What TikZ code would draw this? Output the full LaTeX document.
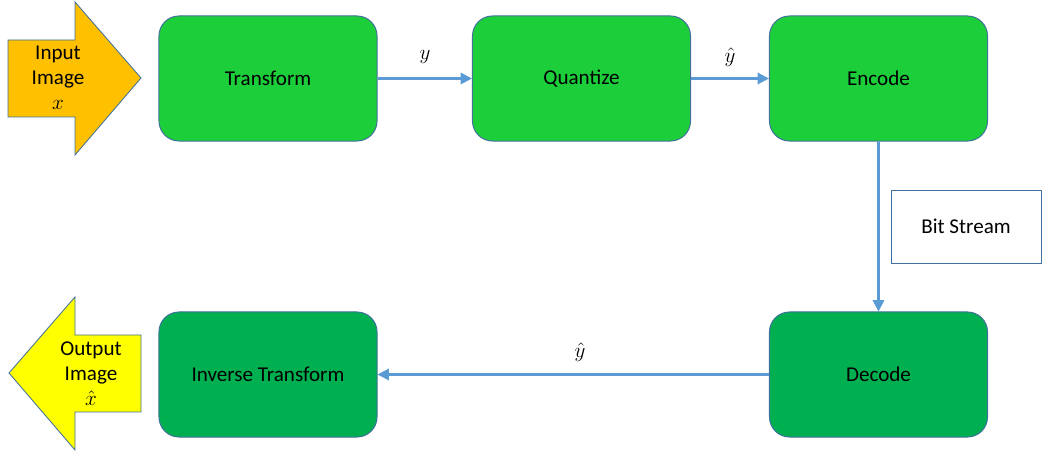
\RequirePackage{fix-cm}
\documentclass[tikz,border=0pt]{standalone}
\usepackage{fontspec}
\setmainfont{Carlito}
\usetikzlibrary{arrows.meta}
\definecolor{brightgreen}{RGB}{28,206,58}
\definecolor{darkgreen}{RGB}{0,176,80}
\definecolor{edgeblue}{RGB}{65,113,156}
\definecolor{linkblue}{RGB}{91,155,213}
\definecolor{inorange}{RGB}{255,192,0}
\definecolor{outyellow}{RGB}{255,255,0}
\tikzset{
  lbl/.style={font=\fontsize{15}{17.7}\selectfont, text=black},
  procbox/.style={draw=edgeblue, line width=0.7pt, rounded corners=0.5cm,
    minimum width=5.45cm, minimum height=3.125cm, inner sep=0pt, lbl},
  upbox/.style={procbox, fill=brightgreen},
  downbox/.style={procbox, fill=darkgreen},
  link/.style={draw=linkblue, line width=1.5pt,
    -{Triangle[width=8pt,length=8pt]}},
  bigarrow/.style={draw=edgeblue, line width=0.6pt},
}
\begin{document}
\begin{tikzpicture}[x=0.025cm,y=-0.025cm]
\useasboundingbox (0,0) rectangle (1042,452);
% big arrows
\draw[bigarrow, fill=inorange] (8,40) -- (75,40) -- (75,2) -- (141,78) -- (75,155) -- (75,117) -- (8,117) -- cycle;
\node[lbl, align=center] (inp) at (58,78) {Input\\Image\\$x$};
\draw[bigarrow, fill=outyellow] (141,335) -- (75,335) -- (75,297) -- (9,373) -- (75,450) -- (75,412) -- (141,412) -- cycle;
\node[lbl, align=center] (outp) at (91,374) {Output\\Image\\$\hat{x}$};
% process boxes
\node[upbox] (tr) at (268,78.5) {Transform};
\node[upbox] (qu) at (581.5,78.5) {Quantize};
\node[upbox] (en) at (878.5,78.5) {Encode};
\node[downbox] (de) at (878.5,374.5) {Decode};
\node[downbox] (it) at (268,374.5) {Inverse Transform};
\node[draw=edgeblue, line width=0.6pt, lbl, minimum width=3.75cm, minimum height=1.825cm, inner sep=0pt] (bs) at (966,226.5) {Bit Stream};
% connectors
\draw[link] (tr) -- (qu);
\draw[link] (qu) -- (en);
\draw[link] (en) -- (de);
\draw[link] (de) -- (it);
\node[lbl] (ly) at (425,57) {$y$};
\node[lbl] (lyh1) at (730,57) {$\hat{y}$};
\node[lbl] (lyh2) at (580,352) {$\hat{y}$};
\end{tikzpicture}
\end{document}
